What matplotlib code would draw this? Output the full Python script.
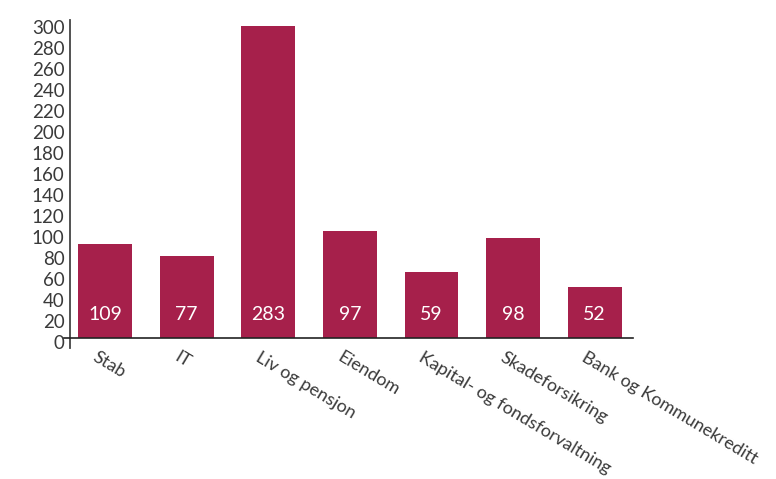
import matplotlib
matplotlib.use("Agg")
import matplotlib.pyplot as plt
import matplotlib.transforms as mtransforms

# Kategorier, stolpehoyder (lest av aksen) og etikettene som star i stolpene
categories = ["Stab", "IT", "Liv og pensjon", "Eiendom",
              "Kapital- og fondsforvaltning", "Skadeforsikring",
              "Bank og Kommunekreditt"]
heights = [90, 78, 297, 102, 63, 95, 49]
labels = ["109", "77", "283", "97", "59", "98", "52"]
yticks = list(range(0, 301, 20))

BAR = "#A6204B"
TXT = "#3a3a3a"

plt.rcParams["font.family"] = ["Lato", "DejaVu Sans"]

fig = plt.figure(figsize=(7.76, 4.79), dpi=100)
ax = fig.add_axes([70 / 776, 1 - 348 / 479, (633 - 70) / 776, (348 - 20) / 479])

x = list(range(len(categories)))
ax.bar(x, heights, width=0.66, color=BAR, zorder=2)

for xi, lab in zip(x, labels):
    ax.text(xi, 22, lab, color="white", fontsize=14, ha="center", va="center",
            zorder=3)

ax.set_xlim(-0.43, 6.47)
ax.set_ylim(-9.5, 303)
ax.set_yticks(yticks)
ax.set_yticklabels([str(v) for v in yticks])
ax.tick_params(axis="y", length=0, pad=4, labelsize=13.5, labelcolor=TXT)
ax.tick_params(axis="x", length=0, pad=3)
ydown = mtransforms.ScaledTranslation(0, -4 / 100, fig.dpi_scale_trans)
for t in ax.get_yticklabels():
    t.set_transform(t.get_transform() + ydown)

for s in ["top", "right"]:
    ax.spines[s].set_visible(False)
ax.spines["left"].set_color("#444444")
ax.spines["left"].set_linewidth(1.3)
ax.spines["bottom"].set_position(("data", 0))
ax.spines["bottom"].set_color("#222222")
ax.spines["bottom"].set_linewidth(1.2)
ax.spines["bottom"].set_bounds(-0.5, 6.47)

ax.set_xticks(x)
ax.set_xticklabels(categories)
offset = mtransforms.ScaledTranslation(-7 / 100, -7 / 100, fig.dpi_scale_trans)
for t in ax.get_xticklabels():
    t.set_rotation(-31)
    t.set_rotation_mode("anchor")
    t.set_ha("left")
    t.set_va("top")
    t.set_fontsize(13)
    t.set_color(TXT)
    t.set_transform(t.get_transform() + offset)

fig.savefig("out.png", dpi=100)
